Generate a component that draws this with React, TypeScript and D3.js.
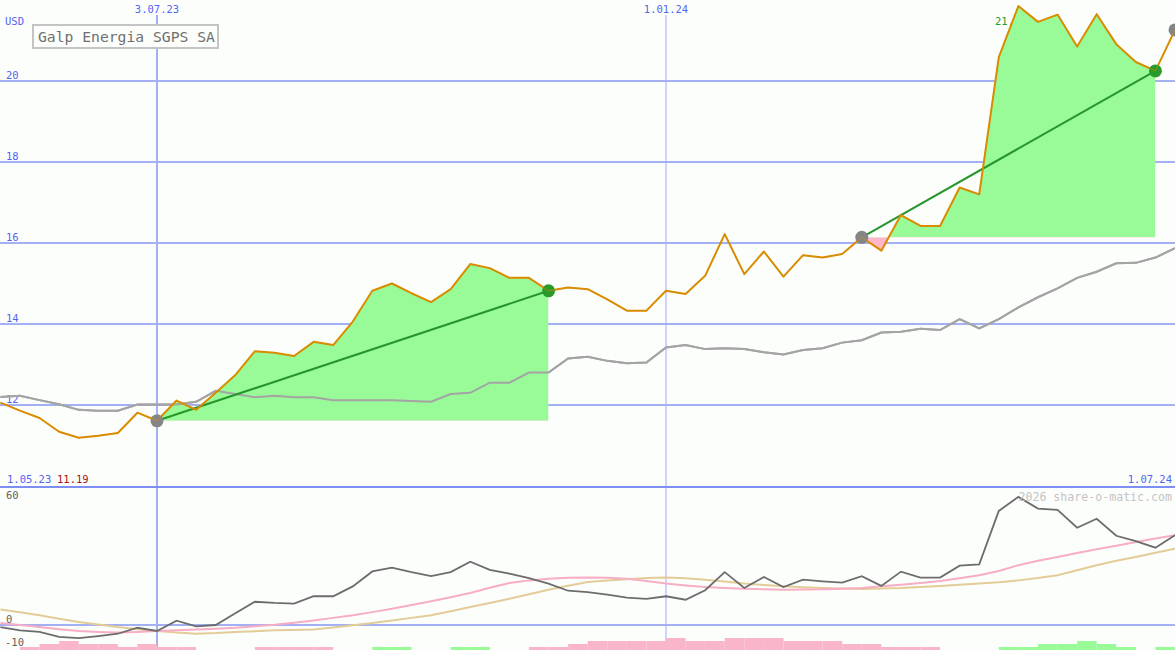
import React from "react";
import * as d3 from "d3";

const dates = [
  "2023-05-08","2023-05-15","2023-05-22","2023-05-29","2023-06-05","2023-06-12","2023-06-19","2023-06-26",
  "2023-07-03","2023-07-10","2023-07-17","2023-07-24","2023-07-31","2023-08-07","2023-08-14","2023-08-21",
  "2023-08-28","2023-09-04","2023-09-11","2023-09-18","2023-09-25","2023-10-02","2023-10-09","2023-10-16",
  "2023-10-23","2023-10-30","2023-11-06","2023-11-13","2023-11-20","2023-11-27","2023-12-04","2023-12-11",
  "2023-12-18","2023-12-25","2024-01-01","2024-01-08","2024-01-15","2024-01-22","2024-01-29","2024-02-05",
  "2024-02-12","2024-02-19","2024-02-26","2024-03-04","2024-03-11","2024-03-18","2024-03-25","2024-04-01",
  "2024-04-08","2024-04-15","2024-04-22","2024-04-29","2024-05-06","2024-05-13","2024-05-20","2024-05-27",
  "2024-06-03","2024-06-10","2024-06-17","2024-06-24","2024-07-01",
];

const price = [
  12.06, 11.86, 11.68, 11.34, 11.19, 11.24, 11.31, 11.81, 11.61, 12.11,
  11.88, 12.30, 12.74, 13.33, 13.29, 13.21, 13.56, 13.48, 14.06, 14.82,
  15.00, 14.76, 14.54, 14.86, 15.48, 15.38, 15.14, 15.14, 14.82, 14.90,
  14.86, 14.61, 14.33, 14.33, 14.82, 14.74, 15.19, 16.22, 15.23, 15.79,
  15.17, 15.70, 15.64, 15.73, 16.14, 15.81, 16.69, 16.42, 16.42, 17.37,
  17.20, 20.59, 21.85, 21.46, 21.64, 20.85, 21.65, 20.91, 20.47, 20.25,
  21.26,
];

const movingAvg = [
  12.20, 12.23, 12.12, 12.02, 11.88, 11.86, 11.86, 12.01, 12.01, 12.01,
  12.08, 12.35, 12.27, 12.19, 12.23, 12.19, 12.19, 12.12, 12.12, 12.12,
  12.12, 12.10, 12.08, 12.27, 12.30, 12.55, 12.55, 12.80, 12.80, 13.15,
  13.19, 13.09, 13.03, 13.05, 13.42, 13.48, 13.38, 13.40, 13.38, 13.30,
  13.25, 13.36, 13.40, 13.54, 13.60, 13.79, 13.81, 13.88, 13.85, 14.12,
  13.89, 14.12, 14.41, 14.66, 14.88, 15.14, 15.29, 15.50, 15.51, 15.64,
  15.87,
];

const momentum = [
  -0.9, -2.3, -3.0, -5.2, -5.7, -4.8, -3.8, -1.2, -2.6, 1.9,
  -0.6, 0.0, 5.1, 10.1, 9.6, 9.3, 12.5, 12.5, 16.8, 23.3,
  24.9, 23.0, 21.3, 23.0, 27.5, 24.0, 22.3, 20.4, 18.0, 14.9,
  14.3, 13.2, 11.9, 11.4, 12.5, 11.0, 15.1, 23.0, 16.1, 20.9,
  16.5, 19.7, 19.0, 18.4, 21.2, 17.0, 23.2, 20.6, 20.6, 25.8,
  26.4, 49.6, 55.7, 50.6, 50.1, 42.3, 46.2, 38.8, 36.5, 33.6,
  39.0,
];

const fastSignal = [
  0.9, 0.0, -0.9, -1.8, -2.6, -3.0, -3.3, -3.0, -2.6, -2.3,
  -2.0, -1.6, -1.2, -0.5, 0.1, 1.0, 2.0, 3.1, 4.2, 5.6,
  7.1, 8.7, 10.3, 12.1, 13.9, 16.2, 18.3, 19.4, 20.1, 20.5,
  20.7, 20.5, 20.1, 19.1, 18.0, 17.2, 16.5, 16.1, 15.8, 15.5,
  15.3, 15.4, 15.5, 15.8, 16.1, 16.8, 17.5, 18.3, 19.1, 20.3,
  21.6, 23.5, 26.0, 27.9, 29.6, 31.3, 32.9, 34.5, 36.1, 37.6,
  39.0,
];

const slowSignal = [
  6.7, 5.5, 4.2, 2.7, 1.3, 0.2, -0.9, -1.8, -2.6, -3.3,
  -3.8, -3.5, -3.0, -2.7, -2.3, -2.2, -2.0, -1.1, -0.1, 0.9,
  2.0, 3.1, 4.2, 6.0, 7.8, 9.6, 11.4, 13.4, 15.3, 17.1,
  18.7, 19.4, 19.9, 20.4, 20.7, 20.3, 19.7, 18.9, 18.0, 17.4,
  16.8, 16.4, 16.1, 15.9, 15.7, 15.9, 16.1, 16.5, 17.0, 17.5,
  18.0, 18.6, 19.4, 20.4, 21.6, 23.8, 26.0, 27.9, 29.6, 31.4,
  33.2,
];

const histogram = [
  0, -1, -2, -3, -2, -2, -1, -2, -1, -1,
  0, 0, 0, -1, -1, -1, -1, 0, 0, 1,
  1, 0, 0, 1, 1, 0, 0, -1, -1, -2,
  -3, -3, -3, -3, -4, -3, -3, -4, -4, -4,
  -3, -3, -3, -2, -2, -1, -1, -1, 0, 0,
  0, 1, 1, 2, 2, 3, 2, 1, 0, 1,
];

const priceTicks = [12, 14, 16, 18, 20];
const dateTicks = ["2023-07-03", "2024-01-01"];
const dateTickLabels = ["3.07.23", "1.01.24"];
const segmentStarts = [8, 44];
const segmentEnds = [28, 59];
const lastIndex = 60;

const title = "Galp Energia SGPS SA";
const currency = "USD";
const startLabel = "1.05.23";
const minLabel = "11.19";
const maxLabel = "21.85";
const endLabel = "1.07.24";
const copyright = "2026 share-o-matic.com";

const MONO = "'DejaVu Sans Mono', monospace";

export default function App() {
  const W = 1175;
  const H = 650;
  const parse = d3.timeParse("%Y-%m-%d");
  const dts = dates.map((d) => parse(d) as Date);

  const x = d3
    .scaleTime()
    .domain([parse("2023-07-03") as Date, parse("2024-01-01") as Date])
    .range([157, 666]);
  const y = d3.scaleLinear().domain([10, 22]).range([486, 0]);
  const yb = d3.scaleLinear().domain([-10, 60]).range([648, 487]);
  const hb = d3.scaleLinear().domain([0, 4]).range([0, 12]);

  const lineTop = (vals: number[]) =>
    d3
      .line<number>()
      .x((_, i) => x(dts[i]))
      .y((v) => y(v))(vals) as string;
  const lineBot = (vals: number[]) =>
    d3
      .line<number>()
      .x((_, i) => x(dts[i]))
      .y((v) => yb(v))(vals) as string;

  const blue = "#5464f2";
  const grid = "#a4b0f4";

  const segs = segmentStarts.map((s, k) => {
    const e = segmentEnds[k];
    const base = price[s];
    const idx = d3.range(s, e + 1);
    const area = d3
      .area<number>()
      .x((i) => x(dts[i]))
      .y0(() => y(base))
      .y1((i) => y(price[i]))(idx) as string;
    return { s, e, base, area, k };
  });

  return (
    <div style={{ position: "fixed", left: 0, top: 0, width: W, height: H, background: "#fcfefc" }}>
      <svg width={W} height={H} style={{ display: "block" }}>
        <defs>
          {segs.map((sg) => (
            <React.Fragment key={sg.k}>
              <clipPath id={`up${sg.k}`}>
                <rect x={x(dts[sg.s])} y={0} width={x(dts[sg.e]) - x(dts[sg.s])} height={y(sg.base)} />
              </clipPath>
              <clipPath id={`dn${sg.k}`}>
                <rect x={x(dts[sg.s])} y={y(sg.base)} width={x(dts[sg.e]) - x(dts[sg.s])} height={486 - y(sg.base)} />
              </clipPath>
            </React.Fragment>
          ))}
        </defs>
        <rect x={0} y={0} width={W} height={H} fill="#fcfefc" />

        {priceTicks.map((t) => (
          <line key={t} x1={0} x2={W} y1={y(t)} y2={y(t)} stroke={grid} strokeWidth={2} />
        ))}
        <line x1={0} x2={W} y1={yb(0)} y2={yb(0)} stroke={grid} strokeWidth={2} />

        {dateTicks.map((d, i) => (
          <line
            key={d}
            x1={x(parse(d) as Date)}
            x2={x(parse(d) as Date)}
            y1={15}
            y2={H}
            stroke={i === 0 ? grid : "#9eaaf4"}
            strokeWidth={i === 0 ? 2 : 1}
          />
        ))}

        <line x1={0} x2={W} y1={487} y2={487} stroke="#7e8ef2" strokeWidth={2} />

        {dateTicks.map((d, i) => (
          <text key={d} x={x(parse(d) as Date)} y={13} fontFamily={MONO} fontSize={10.5} fill={blue} textAnchor="middle">
            {dateTickLabels[i]}
          </text>
        ))}
        <text x={5} y={25} fontFamily={MONO} fontSize={10.5} fill={blue}>{currency}</text>
        {priceTicks.map((t) => (
          <text key={t} x={6} y={y(t) - 2} fontFamily={MONO} fontSize={10.5} fill={blue}>{t}</text>
        ))}
        <text x={7} y={483} fontFamily={MONO} fontSize={10.5} fill={blue}>{startLabel}</text>
        <text x={57} y={483} fontFamily={MONO} fontSize={10.5} fill="#aa1111">{minLabel}</text>
        <text x={1172} y={483} fontFamily={MONO} fontSize={10.5} fill={blue} textAnchor="end">{endLabel}</text>
        <text x={995} y={25} fontFamily={MONO} fontSize={10.5} fill="#22a022">{maxLabel}</text>

        <path d={lineTop(movingAvg)} fill="none" stroke="#a4a4a4" strokeWidth={2} />

        {segs.map((sg) => (
          <React.Fragment key={sg.k}>
            <path d={sg.area} fill="#98fb98" clipPath={`url(#up${sg.k})`} />
            <path d={sg.area} fill="#ffb6c8" clipPath={`url(#dn${sg.k})`} />
          </React.Fragment>
        ))}
        <path d={lineTop(movingAvg)} fill="none" stroke="#a4a4a4" strokeWidth={2} />

        {segs.map((sg) => (
          <line
            key={sg.k}
            x1={x(dts[sg.s])}
            y1={y(price[sg.s])}
            x2={x(dts[sg.e])}
            y2={y(price[sg.e])}
            stroke="#26962a"
            strokeWidth={2}
          />
        ))}

        <path d={lineTop(price)} fill="none" stroke="#da8c00" strokeWidth={2} strokeLinejoin="round" />

        {segs.map((sg) => (
          <React.Fragment key={sg.k}>
            <circle cx={x(dts[sg.s])} cy={y(price[sg.s])} r={6.5} fill="#858585" />
            <circle cx={x(dts[sg.e])} cy={y(price[sg.e])} r={6.5} fill="#2a9a2a" />
          </React.Fragment>
        ))}
        <circle cx={x(dts[lastIndex])} cy={y(price[lastIndex])} r={6.5} fill="#858585" />
        <path d={lineTop(price)} fill="none" stroke="#da8c00" strokeWidth={1} strokeOpacity={0.6} />

        <rect x={33} y={25} width={185} height={23} fill="#fcfefc" stroke="#c4c4c4" strokeWidth={2} />
        <text x={38} y={42} fontFamily={MONO} fontSize={14.7} fill="#707070">{title}</text>

        <path d={lineBot(slowSignal)} fill="none" stroke="#e4cc98" strokeWidth={2} />
        <path d={lineBot(fastSignal)} fill="none" stroke="#f7adc4" strokeWidth={2} />
        <path d={lineBot(momentum)} fill="none" stroke="#6c6c6c" strokeWidth={1.8} />

        {histogram.map((v, i) =>
          v === 0 ? null : (
            <rect
              key={i}
              x={x(dts[i])}
              y={H - hb(Math.abs(v))}
              width={x(dts[i + 1]) - x(dts[i])}
              height={hb(Math.abs(v))}
              fill={v < 0 ? "#f9b6c9" : "#98fb98"}
            />
          )
        )}

        <text x={6} y={499} fontFamily={MONO} fontSize={10.5} fill="#606060">60</text>
        <text x={6} y={623} fontFamily={MONO} fontSize={10.5} fill="#606060">0</text>
        <text x={5} y={646} fontFamily={MONO} fontSize={10.5} fill="#606060">-10</text>
        <text x={1172} y={501} fontFamily={MONO} fontSize={11.6} fill="#c4c4c4" textAnchor="end">{copyright}</text>
      </svg>
    </div>
  );
}
